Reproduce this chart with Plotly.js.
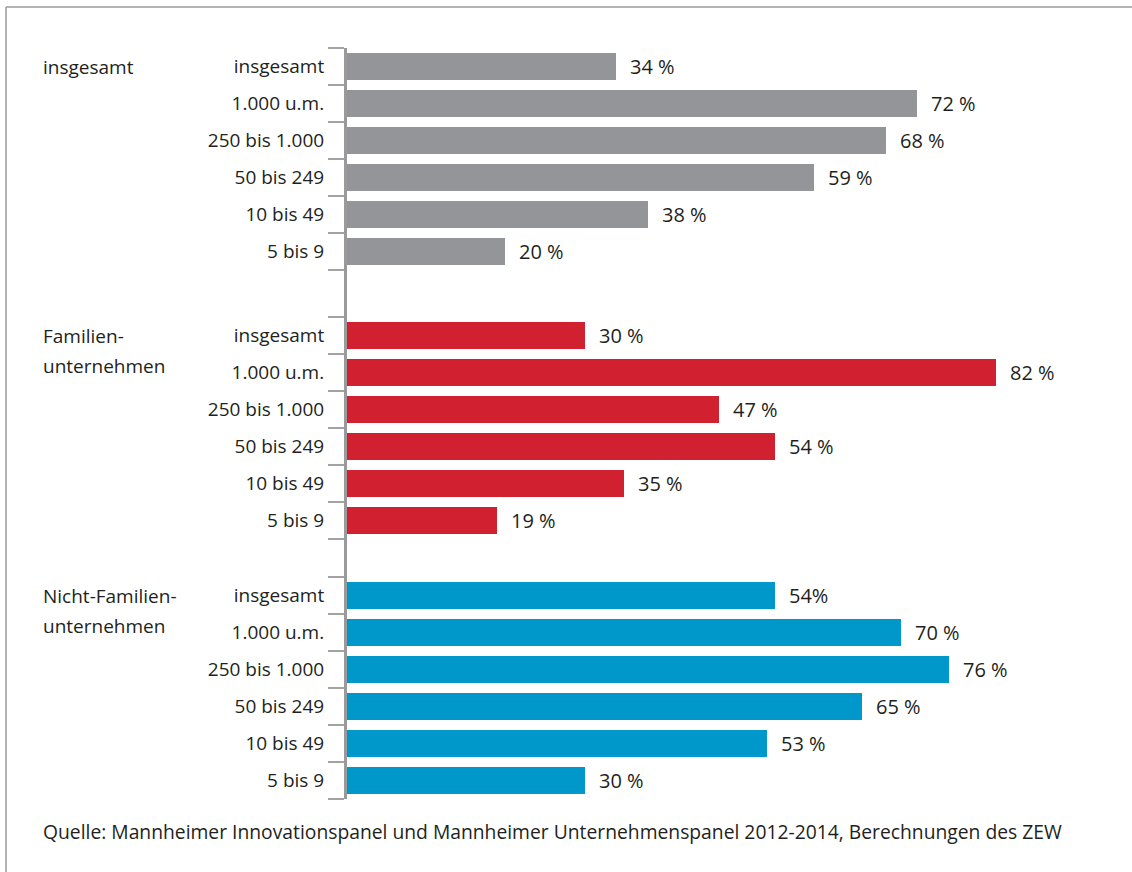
<!DOCTYPE html>
<html>
<head>
<meta charset="utf-8">
<script src="https://cdn.plot.ly/plotly-3.0.1.min.js"></script>
<style>html,body{margin:0;padding:0;background:#fff;}#chart{width:1132px;height:872px;}</style>
</head>
<body>
<div id="chart"></div>
<script>
// ---- data ----
const categories = ["insgesamt", "1.000 u.m.", "250 bis 1.000", "50 bis 249", "10 bis 49", "5 bis 9"];
const groupNames = ["insgesamt", "Familien-", "Nicht-Familien-"];
const groupNames2 = ["", "unternehmen", "unternehmen"];
const valuesInsgesamt = [34, 72, 68, 59, 38, 20];
const valuesFamilien = [30, 82, 47, 54, 35, 19];
const valuesNichtFamilien = [54, 70, 76, 65, 53, 30];
const labelsInsgesamt = ["34 %", "72 %", "68 %", "59 %", "38 %", "20 %"];
const labelsFamilien = ["30 %", "82 %", "47 %", "54 %", "35 %", "19 %"];
const labelsNichtFamilien = ["54%", "70 %", "76 %", "65 %", "53 %", "30 %"];
const sourceText = "Quelle: Mannheimer Innovationspanel und Mannheimer Unternehmenspanel 2012-2014, Berechnungen des ZEW";

// ---- layout helpers ----
const colors = ["#939598", "#d12131", "#0098cb"];
const groupStart = [0, 269 / 37, 529 / 37];   // slot offsets of each group
const totalSlots = 751 / 37;
const M = {l: 347, r: 33, t: 48, b: 73};
const W = 1132, H = 872;
const pw = W - M.l - M.r, ph = H - M.t - M.b;
const px2paperX = p => (p - M.l) / pw;
const px2paperY = p => 1 - (p - M.t) / ph;
const FONT = "Open Sans, sans-serif";
const TXT = "#231f20";

const allValues = [valuesInsgesamt, valuesFamilien, valuesNichtFamilien];
const allLabels = [labelsInsgesamt, labelsFamilien, labelsNichtFamilien];

const traces = [];
const annotations = [];
const tickvals = [], ticktext = [], minorVals = [];
allValues.forEach((vals, g) => {
  const ys = categories.map((c, i) => groupStart[g] + i + 0.5);
  traces.push({
    type: "bar", orientation: "h", x: vals, y: ys,
    width: 0.73, marker: {color: colors[g]},
    hoverinfo: "x", showlegend: false
  });
  categories.forEach((c, i) => { tickvals.push(ys[i]); ticktext.push(c); });
  for (let k = 0; k <= categories.length; k++) minorVals.push(groupStart[g] + k);
  vals.forEach((v, i) => annotations.push({
    x: v, y: ys[i], xref: "x", yref: "y", text: allLabels[g][i],
    xanchor: "left", yanchor: "middle", xshift: 12, showarrow: false,
    font: {family: FONT, size: 20, color: TXT}
  }));
  annotations.push({
    x: px2paperX(41), y: ys[0], xref: "paper", yref: "y", text: groupNames[g],
    xanchor: "left", yanchor: "middle", showarrow: false,
    font: {family: FONT, size: 19, color: TXT}
  });
  if (groupNames2[g]) annotations.push({
    x: px2paperX(41), y: ys[0], xref: "paper", yref: "y", text: groupNames2[g],
    xanchor: "left", yanchor: "middle", yshift: -30, showarrow: false,
    font: {family: FONT, size: 19, color: TXT}
  });
});
annotations.push({
  x: px2paperX(41), y: px2paperY(831), xref: "paper", yref: "paper", text: sourceText,
  xanchor: "left", yanchor: "middle", showarrow: false,
  font: {family: FONT, size: 19.3, color: TXT}
});

const frame = {color: "#9a9a9a", width: 1.5};
const shapes = [
  {type: "line", xref: "paper", yref: "paper", x0: px2paperX(6), x1: px2paperX(1132), y0: px2paperY(7), y1: px2paperY(7), line: frame},
  {type: "line", xref: "paper", yref: "paper", x0: px2paperX(6), x1: px2paperX(6), y0: px2paperY(7), y1: px2paperY(872), line: frame}
];

const layout = {
  width: W, height: H,
  margin: M,
  paper_bgcolor: "#fff", plot_bgcolor: "#fff",
  xaxis: {range: [0, pw / 7.92], visible: false, fixedrange: true},
  yaxis: {
    range: [totalSlots, 0], tickmode: "array", tickvals: tickvals, ticktext: ticktext,
    ticks: "", showgrid: false, zeroline: false,
    showline: true, linecolor: "#9a9a9a", linewidth: 3,
    ticklabelstandoff: 16,
    tickfont: {family: FONT, size: 19, color: TXT},
    minor: {tickmode: "array", tickvals: minorVals, ticks: "outside", ticklen: 16, tickwidth: 2.5, tickcolor: "#a3a3a3", showgrid: false},
    fixedrange: true
  },
  annotations: annotations,
  shapes: shapes,
  bargap: 0
};
Plotly.newPlot("chart", traces, layout, {displayModeBar: false, staticPlot: true});
</script>
</body>
</html>
